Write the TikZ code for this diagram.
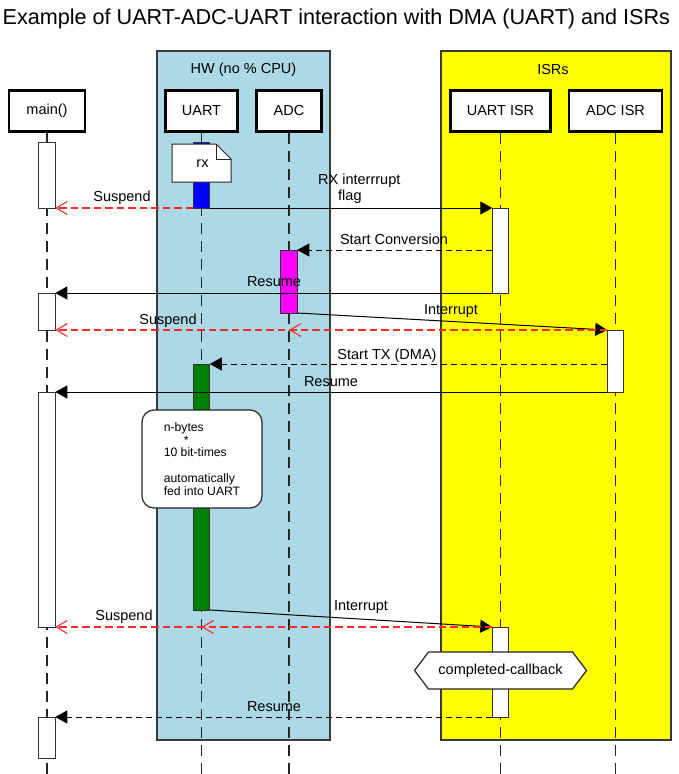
\documentclass[tikz,border=0pt]{standalone}
\usepackage{fontspec}
\setmainfont{Liberation Sans}
\usetikzlibrary{arrows.meta}

\definecolor{hwblue}{HTML}{ADD8E6}
\definecolor{isryellow}{HTML}{FFFF00}
\definecolor{barblue}{HTML}{0000FF}
\definecolor{barmagenta}{HTML}{FF00FF}
\definecolor{bargreen}{HTML}{008000}
\definecolor{suspred}{HTML}{FF2A2A}
\definecolor{framegray}{HTML}{3A3A3A}

\begin{document}
\begin{tikzpicture}[x=1pt,y=-1pt,
  every node/.style={font=\fontsize{14.5}{17}\selectfont},
  group/.style={draw=framegray, line width=1.4pt},
  head/.style={draw=black, line width=2.6pt, fill=white, minimum height=41.5pt, inner sep=0},
  lifeline/.style={draw=black!85, line width=1.4pt, dash pattern=on 11pt off 7pt},
  bar/.style={draw=black!80, line width=1pt, fill=white, minimum width=16.5pt,
              inner sep=0, outer sep=0, anchor=north},
  call/.style={draw=black, line width=1pt, -{Triangle[length=12pt,width=13pt]}},
  callret/.style={call, dash pattern=on 6pt off 4pt},
  suspend/.style={draw=suspred, line width=1.1pt, dash pattern=on 7.5pt off 4pt,
                  -{Straight Barb[length=11pt,width=13pt]}},
  msglabel/.style={inner sep=0, anchor=base},
  notebox/.style={draw=black!85, line width=1.2pt, fill=white},
]
\useasboundingbox (0,0) rectangle (678,774);

% title
\node[anchor=base west, inner sep=0, font=\fontsize{21.6}{26}\selectfont] (title)
  at (2.5,24.5) {Example of UART-ADC-UART interaction with DMA (UART) and ISRs};

% groups
\draw[group, fill=hwblue] (157,51) rectangle (330,740);
\node (hwlabel) at (243.5,70) {HW (no \% CPU)};
\draw[group, fill=isryellow] (441,51) rectangle (671,740);
\node (isrlabel) at (553,70) {ISRs};

% participants
\node[head, minimum width=76pt] (main) at (47,111)    {main()};
\node[head, minimum width=72pt] (uart) at (201.5,111) {UART};
\node[head, minimum width=65pt] (adc)  at (289,111)   {ADC};
\node[head, minimum width=100pt] (uisr) at (500.5,111) {UART ISR};
\node[head, minimum width=93pt] (aisr) at (615.5,111) {ADC ISR};

\coordinate (bottom) at (0,774);
\foreach \p in {main,uart,adc,uisr,aisr}
  \draw[lifeline] (\p.south) -- (\p.south |- bottom);

% activation bars
\node[bar, minimum height=66pt]  (m1) at (47,142) {};
\node[bar, minimum height=37pt]  (m2) at (47,293) {};
\node[bar, minimum height=235pt] (m3) at (47,392) {};
\node[bar, minimum height=41pt]  (m4) at (47,717) {};
\node[bar, fill=barblue, minimum height=66pt]     (rxbar) at (201.5,142) {};
\node[bar, fill=bargreen, minimum height=246pt]   (txbar) at (201.5,364) {};
\node[bar, fill=barmagenta, minimum height=63pt]  (conv)  at (289,250) {};
\node[bar, minimum height=85pt] (u1) at (500.5,208) {};
\node[bar, minimum height=90pt] (u2) at (500.5,627) {};
\node[bar, minimum height=62pt] (a1) at (615.5,330) {};

% rx note
\draw[notebox, line width=1pt] (172,144) -- (216,144) -- (231,159) -- (231,182) -- (172,182) -- cycle;
\draw[draw=black!85, line width=1pt] (216,144) -- (216,159) -- (231,159);
\node[msglabel] (rx) at (202.5,167) {rx};

% messages
\draw[suspend] (rxbar.south west) -- (m1.south east);
\draw[call] (rxbar.south east) -- (u1.north west);
\draw[callret] (u1.west |- conv.north) -- (conv.north east);
\draw[call] (u1.south west) -- (m2.north east);
\draw[call] (conv.south east) -- (a1.north west);
\draw[suspend] (a1.north west) -- (m2.south east);
\draw[suspend] (a1.north west) -- (adc.south |- a1.north);
\draw[callret] (a1.west |- txbar.north) -- (txbar.north east);
\draw[call] (a1.south west) -- (m3.north east);
\draw[call] (txbar.south east) -- (u2.north west);
\draw[suspend] (u2.north west) -- (m3.south east);
\draw[suspend] (u2.north west) -- (uart.south |- u2.north);
\draw[callret] (u2.south west) -- (m4.north east);

% message labels
\node[msglabel] (lsus1) at (122,201) {Suspend};
\node[inner sep=0, anchor=north west, align=left, font=\fontsize{14.5}{15.7}\selectfont] (lrx)
  at (318,174) {RX interrrupt\\\hspace*{20pt}flag};
\node[msglabel] (lconv) at (394,244) {Start Conversion};
\node[msglabel] (lres1) at (274,286) {Resume};
\node[msglabel] (lint1) at (451,314) {Interrupt};
\node[msglabel] (lsus2) at (168,324) {Suspend};
\node[msglabel] (ltx)   at (387,359) {Start TX (DMA)};
\node[msglabel] (lres2) at (331,386) {Resume};
\node[msglabel] (lint2) at (361,610) {Interrupt};
\node[msglabel] (lsus3) at (124,620) {Suspend};
\node[msglabel] (lres3) at (274,711) {Resume};

% DMA note
\node[notebox, rounded corners=12pt, minimum width=120pt, minimum height=98pt,
      align=left, font=\fontsize{12.2}{12.8}\selectfont] (dma) at (202,459)
  {n-bytes\\\hspace*{20pt}*\\10 bit-times\\[12.8pt]automatically\\fed into UART};

% callback marker
\draw[notebox] (414.5,670.5) -- (428.5,652) -- (572.5,652) -- (586.5,670.5)
  -- (572.5,689) -- (428.5,689) -- cycle;
\node (cb) at (500.5,670.5) {completed-callback};

\end{tikzpicture}
\end{document}
